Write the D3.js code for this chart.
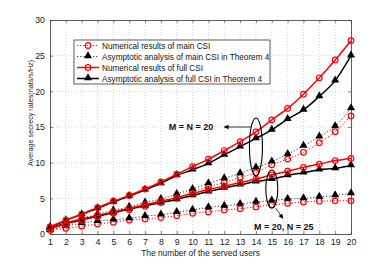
<!DOCTYPE html>
<html>
<head>
<meta charset="utf-8">
<script src="https://cdn.jsdelivr.net/npm/d3@7"></script>
<style>
  body { margin: 0; background: #fff; }
  svg text { font-family: "Liberation Sans", Arial, sans-serif; }
</style>
</head>
<body>
<div class="chart"></div>
<script>
// users on the x axis
var users = d3.range(1, 21);

// M = N = 20
var fullNum20 = [1.0, 1.95, 2.8, 3.7, 4.6, 5.4, 6.3, 7.3, 8.4, 9.45, 10.5, 11.7, 12.95, 14.3, 16.0, 17.6, 19.6, 21.9, 24.4, 27.1];
var fullAsy20 = [0.95, 1.9, 2.75, 3.6, 4.5, 5.3, 6.2, 7.1, 8.2, 9.0, 9.9, 11.1, 12.25, 13.4, 14.6, 16.1, 17.4, 19.3, 21.5, 25.0];
var mainNum20 = [0.7, 1.3, 1.85, 2.4, 2.9, 3.4, 3.9, 4.4, 5.0, 5.9, 6.65, 7.2, 7.95, 8.6, 9.7, 10.5, 11.45, 12.8, 14.35, 16.55];
var mainAsy20 = [0.9, 1.6, 2.2, 2.75, 3.3, 3.8, 4.4, 4.9, 5.6, 6.3, 7.1, 7.8, 8.5, 9.3, 10.15, 11.2, 12.35, 13.65, 15.1, 17.6];

// M = 20, N = 25
var fullNum25 = [0.8, 1.5, 2.1, 2.6, 3.1, 3.6, 4.1, 4.6, 5.1, 5.7, 6.25, 6.7, 7.2, 7.7, 8.3, 8.8, 9.35, 9.8, 10.3, 10.6];
var fullAsy25 = [0.8, 1.45, 2.0, 2.5, 3.0, 3.5, 3.95, 4.4, 4.85, 5.4, 5.95, 6.45, 6.9, 7.35, 7.7, 8.2, 8.6, 9.0, 9.2, 9.6];
var mainNum25 = [0.5, 0.8, 1.1, 1.4, 1.65, 1.95, 2.1, 2.3, 2.55, 2.9, 3.1, 3.37, 3.55, 3.8, 4.07, 4.3, 4.5, 4.6, 4.65, 4.65];
var mainAsy25 = [0.55, 1.1, 1.5, 1.8, 2.0, 2.2, 2.5, 2.7, 3.05, 3.37, 3.74, 3.93, 4.2, 4.5, 4.67, 4.9, 5.0, 5.2, 5.4, 5.7];

var yTicks = [0, 5, 10, 15, 20, 25, 30];

var legendLabels = [
  "Numerical results of main CSI",
  "Asymptotic analysis of main CSI in Theorem 4",
  "Numerical results of full CSI",
  "Asymptotic analysis of full CSI in Theorem 4"
];

var svgWidth = 388;
var svgHeight = 264;
var margin = { top: 20, right: 37, bottom: 30, left: 50 };
var width = svgWidth - margin.left - margin.right;
var height = svgHeight - margin.top - margin.bottom;

var svg = d3.select(".chart")
  .append("svg")
  .attr("width", svgWidth)
  .attr("height", svgHeight);

var chart = svg.append("g")
  .attr("transform", "translate(" + margin.left + "," + margin.top + ")");

var x = d3.scaleLinear().domain([1, 20]).range([0, width]);
var y = d3.scaleLinear().domain([0, 30]).range([height, 0]);

// dotted grid
chart.append("g")
  .selectAll("line")
  .data(users.slice(1, -1))
  .enter().append("line")
    .attr("x1", function(d) { return x(d); })
    .attr("x2", function(d) { return x(d); })
    .attr("y1", 0)
    .attr("y2", height)
    .attr("stroke", "#c8c8c8")
    .attr("stroke-width", 0.8)
    .attr("stroke-dasharray", "1,2");

chart.append("g")
  .selectAll("line")
  .data(yTicks.slice(1, -1))
  .enter().append("line")
    .attr("x1", 0)
    .attr("x2", width)
    .attr("y1", function(d) { return y(d); })
    .attr("y2", function(d) { return y(d); })
    .attr("stroke", "#c8c8c8")
    .attr("stroke-width", 0.8)
    .attr("stroke-dasharray", "1,2");

// axes, matlab style ticks pointing inward
var bottomAxis = d3.axisBottom(x).tickValues(users).tickSizeInner(-3).tickSizeOuter(0).tickPadding(5);
var leftAxis = d3.axisLeft(y).tickValues(yTicks).tickSizeInner(-3).tickSizeOuter(0).tickPadding(5);
var topAxis = d3.axisTop(x).tickValues(users).tickSizeInner(-3).tickSizeOuter(0).tickFormat("");
var rightAxis = d3.axisRight(y).tickValues(yTicks).tickSizeInner(-3).tickSizeOuter(0).tickFormat("");

chart.append("g").attr("transform", "translate(0," + height + ")").call(bottomAxis);
chart.append("g").call(leftAxis);
chart.append("g").call(topAxis);
chart.append("g").attr("transform", "translate(" + width + ",0)").call(rightAxis);

chart.selectAll(".domain").attr("stroke", "#333").attr("stroke-width", 0.8);
chart.selectAll(".tick line").attr("stroke", "#333").attr("stroke-width", 0.6);
chart.selectAll(".tick text").attr("font-size", 8.8).attr("fill", "#222")
  .attr("font-family", "Liberation Sans, Arial, sans-serif");

// axis labels
chart.append("text")
  .attr("x", width / 2)
  .attr("y", height + 22)
  .attr("text-anchor", "middle")
  .attr("font-size", 8.4)
  .attr("fill", "#222")
  .text("The number of the served users");

chart.append("text")
  .attr("transform", "rotate(-90)")
  .attr("x", -(height / 2) + 14)
  .attr("y", -17)
  .attr("text-anchor", "middle")
  .attr("font-size", 7.2)
  .attr("fill", "#222")
  .text("Average secrecy rates(nats/s/Hz)");

var line = d3.line()
  .x(function(d, i) { return x(users[i]); })
  .y(function(d) { return y(d); })
  .curve(d3.curveMonotoneX);

var series = [
  { values: mainNum25, color: "#ff0000", dash: "1.2,2", marker: "circle" },
  { values: mainAsy25, color: "#444", dash: "1.2,2", marker: "triangle" },
  { values: mainNum20, color: "#ff0000", dash: "1.2,2", marker: "circle" },
  { values: mainAsy20, color: "#444", dash: "1.2,2", marker: "triangle" },
  { values: fullAsy25, color: "#000", dash: null, marker: "triangle" },
  { values: fullNum25, color: "#ff0000", dash: null, marker: "circle" },
  { values: fullAsy20, color: "#000", dash: null, marker: "triangle" },
  { values: fullNum20, color: "#ff0000", dash: null, marker: "circle" }
];

var triangle = d3.symbol().type(d3.symbolTriangle).size(28);

function drawMarkers(g, s, xs, ys) {
  if (s.marker === "circle") {
    g.append("circle")
      .attr("cx", xs).attr("cy", ys).attr("r", 2.8)
      .attr("fill", "none").attr("stroke", "#ff0000").attr("stroke-width", 1.2);
  } else {
    g.append("path")
      .attr("d", triangle)
      .attr("transform", "translate(" + xs + "," + (ys - 0.5) + ")")
      .attr("fill", "#000");
  }
}

series.forEach(function(s) {
  chart.append("path")
    .datum(s.values)
    .attr("d", line)
    .attr("fill", "none")
    .attr("stroke", s.dash ? (s.marker === "circle" ? "#ff0000" : "#333") : s.color)
    .attr("stroke-width", s.dash ? 1 : 1.5)
    .attr("stroke-dasharray", s.dash);
  var g = chart.append("g");
  s.values.forEach(function(v, i) {
    drawMarkers(g, s, x(users[i]), y(v));
  });
});

// legend
var legend = chart.append("g").attr("transform", "translate(24,20)");
legend.append("rect")
  .attr("width", 196).attr("height", 44)
  .attr("fill", "#fff").attr("stroke", "#333").attr("stroke-width", 0.8);

var legendStyles = [
  { color: "#ff0000", dash: "1.2,2", marker: "circle" },
  { color: "#333", dash: "1.2,2", marker: "triangle" },
  { color: "#ff0000", dash: null, marker: "circle" },
  { color: "#000", dash: null, marker: "triangle" }
];

legendLabels.forEach(function(label, i) {
  var ly = 5.5 + i * 11;
  var s = legendStyles[i];
  var row = legend.append("g");
  row.append("line")
    .attr("x1", 3).attr("x2", 25).attr("y1", ly).attr("y2", ly)
    .attr("stroke", s.color)
    .attr("stroke-width", s.dash ? 1 : 1.5)
    .attr("stroke-dasharray", s.dash);
  drawMarkers(row, s, 14, ly);
  row.append("text")
    .attr("x", 28).attr("y", ly + 3)
    .attr("font-size", 8.2)
    .attr("fill", "#111")
    .text(label);
});

// annotations
chart.append("ellipse")
  .attr("cx", x(14)).attr("cy", y(12.2))
  .attr("rx", 6.5).attr("ry", 29)
  .attr("fill", "none").attr("stroke", "#000").attr("stroke-width", 1.1);

chart.append("ellipse")
  .attr("cx", x(15)).attr("cy", y(6.3))
  .attr("rx", 6).attr("ry", 19)
  .attr("fill", "none").attr("stroke", "#000").attr("stroke-width", 1.1);

svg.append("defs").append("marker")
  .attr("id", "arrow")
  .attr("viewBox", "0 0 10 10")
  .attr("refX", 9).attr("refY", 5)
  .attr("markerWidth", 6).attr("markerHeight", 6)
  .attr("orient", "auto")
  .append("path")
  .attr("d", "M0,0L10,5L0,10z")
  .attr("fill", "#000");

chart.append("line")
  .attr("x1", x(14) - 5).attr("y1", y(15.0))
  .attr("x2", x(12.0)).attr("y2", y(15.0))
  .attr("stroke", "#000").attr("stroke-width", 0.8)
  .attr("marker-end", "url(#arrow)");

chart.append("line")
  .attr("x1", x(15) + 4).attr("y1", y(3.6))
  .attr("x2", x(15.7)).attr("y2", y(2.2))
  .attr("stroke", "#000").attr("stroke-width", 0.8)
  .attr("marker-end", "url(#arrow)");

chart.append("text")
  .attr("x", x(11.3)).attr("y", y(14.6))
  .attr("text-anchor", "end")
  .attr("font-size", 9)
  .attr("font-weight", "bold")
  .attr("fill", "#111")
  .text("M = N = 20");

chart.append("text")
  .attr("x", x(15.75)).attr("y", y(0.55))
  .attr("text-anchor", "middle")
  .attr("font-size", 9)
  .attr("font-weight", "bold")
  .attr("fill", "#111")
  .text("M = 20, N = 25");
</script>
</body>
</html>
